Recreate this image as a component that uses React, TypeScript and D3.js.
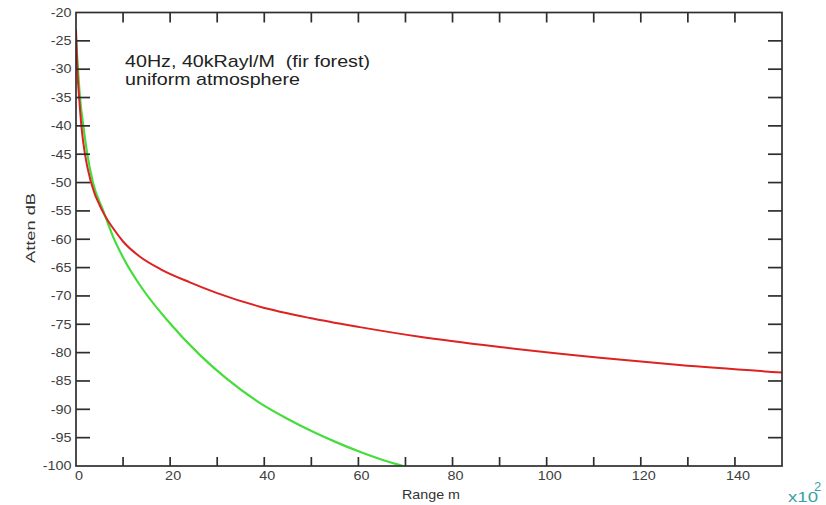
import React from "react";
import * as d3 from "d3";

const redX = [0, 0.28, 0.71, 1.2, 1.9, 3.2, 5.8, 8, 10, 13.6, 18, 24.2, 30, 39.1, 49.7, 60.3, 73, 90, 111.3, 128.2, 150];
const redY = [-23, -30, -35.5, -40.5, -45, -50, -55.3, -58.2, -60.4, -63.1, -65.3, -67.6, -69.5, -71.9, -73.9, -75.5, -77.2, -79.0, -80.9, -82.2, -83.5];
const greenX = [0, 0.42, 0.85, 1.56, 2.4, 3.6, 5.8, 8, 10, 14, 19.3, 26.3, 32, 39.1, 45, 49.7, 55, 60.3, 65, 69.5];
const greenY = [-24.5, -30, -35, -40, -45, -50, -55, -59.8, -63.2, -68.6, -74.2, -80.4, -84.6, -88.9, -91.7, -93.7, -95.7, -97.5, -98.9, -100];
const xTicks = [0, 20, 40, 60, 80, 100, 120, 140];
const xMinor = [10, 30, 50, 70, 90, 110, 130];
const yTicks = [-20, -25, -30, -35, -40, -45, -50, -55, -60, -65, -70, -75, -80, -85, -90, -95, -100];

export default function App() {
  const W = 826, H = 505;
  const L = 76, R = 782, T = 12.5, B = 466;
  const x = d3.scaleLinear().domain([0, 150]).range([L, R]);
  const y = d3.scaleLinear().domain([-20, -100]).range([T, B]);
  const line = d3.line<[number, number]>().x(d => x(d[0])).y(d => y(d[1])).curve(d3.curveMonotoneX);
  const red = redX.map((v, i) => [v, redY[i]] as [number, number]);
  const green = greenX.map((v, i) => [v, greenY[i]] as [number, number]);
  const axisColor = "#2e2e2e";
  const labelColor = "#404040";
  const font = "Liberation Sans, Arial, sans-serif";
  const allX = [...xTicks, ...xMinor].filter(v => v > 0 && v < 150);
  const sx = 1.2;
  return (
    <svg width={W} height={H} style={{ position: "absolute", left: 0, top: 0, background: "#fff" }} fontFamily={font}>
      <rect x={0} y={0} width={W} height={H} fill="#fff" />
      <defs>
        <clipPath id="plot"><rect x={L} y={T - 2} width={R - L} height={B - T + 2} /></clipPath>
      </defs>
      <g clipPath="url(#plot)">
        <path d={line(green) || ""} fill="none" stroke="#44dd3c" strokeWidth={2.2} />
        <path d={line(red) || ""} fill="none" stroke="#dd2222" strokeWidth={2} />
      </g>
      <rect x={L} y={T} width={R - L} height={B - T} fill="none" stroke={axisColor} strokeWidth={1.7} />
      {allX.map(v => (
        <g key={"xt" + v}>
          <line x1={x(v)} x2={x(v)} y1={B} y2={B - 9} stroke={axisColor} strokeWidth={1.7} />
          <line x1={x(v)} x2={x(v)} y1={T} y2={T + 10} stroke={axisColor} strokeWidth={1.7} />
        </g>
      ))}
      {yTicks.filter(v => v < -20 && v > -100).map(v => (
        <g key={"yt" + v}>
          <line x1={L} x2={L + 14} y1={y(v)} y2={y(v)} stroke={axisColor} strokeWidth={1.7} />
          <line x1={R} x2={R - 14} y1={y(v)} y2={y(v)} stroke={axisColor} strokeWidth={1.7} />
        </g>
      ))}
      {yTicks.map(v => (
        <g key={"yl" + v} transform={`translate(71.5,${y(v) + 4.3}) scale(${sx},1)`}>
          <text x={0} y={0} textAnchor="end" fontSize={12} fill={labelColor}>{v}</text>
        </g>
      ))}
      {xTicks.map(v => (
        <g key={"xl" + v} transform={`translate(${x(v) + 3},480) scale(${sx},1)`}>
          <text x={0} y={0} textAnchor="middle" fontSize={12} fill={labelColor}>{v}</text>
        </g>
      ))}
      <g transform={`translate(431,499) scale(1.1,1)`}>
        <text x={0} y={0} textAnchor="middle" fontSize={13} fill="#333">Range m</text>
      </g>
      <text transform={`translate(35,228) rotate(-90)`} textAnchor="middle" fontSize={13} fill="#333" textLength={70} lengthAdjust="spacingAndGlyphs">Atten dB</text>
      <text x={788} y={502} fontSize={14} fill="#3a9fa6" textLength={30} lengthAdjust="spacingAndGlyphs">x10</text>
      <text x={814} y={491} fontSize={13} fill="#3a9fa6">2</text>
      <text x={125} y={67} fontSize={17} fill="#222" textLength={245} lengthAdjust="spacingAndGlyphs">40Hz, 40kRayl/M{"\u00a0\u00a0"}(fir forest)</text>
      <text x={125} y={85} fontSize={17} fill="#222" textLength={175} lengthAdjust="spacingAndGlyphs">uniform atmosphere</text>
    </svg>
  );
}
